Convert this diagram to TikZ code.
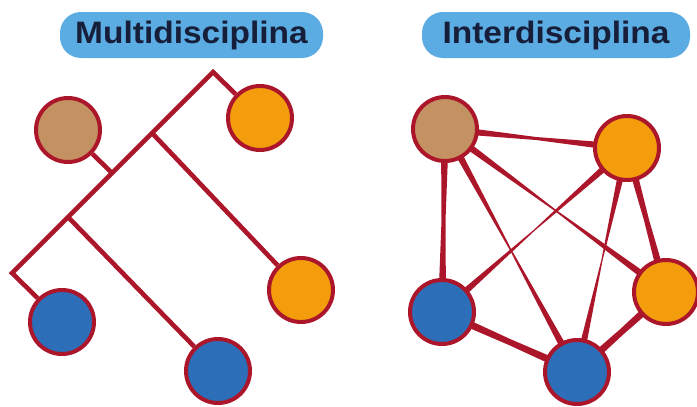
\documentclass[tikz,border=0pt]{standalone}
\usepackage{fontspec}
\setmainfont{Liberation Sans}
\usepackage{xcolor}
\usepackage{tikz}
\usetikzlibrary{positioning, calc, backgrounds}

\definecolor{linkred}{RGB}{172,22,42}
\definecolor{tanfill}{RGB}{196,146,98}
\definecolor{orangefill}{RGB}{243,156,12}
\definecolor{bluefill}{RGB}{44,110,184}
\definecolor{tagblue}{RGB}{90,172,226}
\definecolor{tagtext}{RGB}{22,30,58}

% bow-tie link: thick at both discs, narrow in the middle
\newcommand{\tielink}[3]{%
  \coordinate (tiemid) at ($(#1)!0.5!(#2)$);
  \fill[linkred] ($(#1)!4pt!90:(#2)$) -- ($(tiemid)!#3!90:(#2)$) -- ($(#2)!4pt!-90:(#1)$)
    -- ($(#2)!4pt!90:(#1)$) -- ($(tiemid)!#3!-90:(#2)$) -- ($(#1)!4pt!-90:(#2)$) -- cycle;}

\tikzset{
  disc/.style={circle, draw=linkred, line width=4pt, minimum size=64pt, inner sep=0pt},
  tag/.style={rounded corners=21pt, fill=tagblue, text=tagtext, minimum height=46pt,
    inner sep=0pt, font=\bfseries\fontsize{31}{31}\selectfont},
  branch/.style={draw=linkred, line width=4.6pt},
}

\begin{document}
\begin{tikzpicture}[x=1pt, y=-1pt]
  \useasboundingbox (0,0) rectangle (697,407);

  % Titles
  \node[tag, minimum width=263pt] (multi) at (191.5,35) {\scalebox{1.08}[1]{Multidisciplina}};
  \node[tag, minimum width=268pt] (inter) at (556,35) {\scalebox{1.08}[1]{Interdisciplina}};

  % Left: discs hanging from one stem
  \node[disc, fill=tanfill] (mtan) at (68,130) {};
  \node[disc, fill=orangefill] (morA) at (260,118) {};
  \node[disc, fill=orangefill] (morB) at (301,290) {};
  \node[disc, fill=bluefill] (mblueA) at (62,322) {};
  \node[disc, fill=bluefill] (mblueB) at (218,371) {};

  % Stem corners and joints
  \coordinate (top) at (213,72);
  \coordinate (foot) at (12,273);
  \coordinate (jA) at (152,133);
  \coordinate (jB) at (112,173);
  \coordinate (jC) at (68,217);

  \begin{scope}[on background layer]
    \draw[branch] (morA) -- (top) -- (foot) -- (mblueA);
    \draw[branch] (jA) -- (morB);
    \draw[branch] (jB) -- (mtan);
    \draw[branch] (jC) -- (mblueB);
  \end{scope}

  % Right: every disc tied to the others
  \node[disc, fill=tanfill] (itan) at (445,129) {};
  \node[disc, fill=orangefill] (iorA) at (627,148) {};
  \node[disc, fill=orangefill] (iorB) at (666,292) {};
  \node[disc, fill=bluefill] (iblueA) at (442,312) {};
  \node[disc, fill=bluefill] (iblueB) at (577,372) {};

  \begin{scope}[on background layer]
    \tielink{itan}{iorA}{1.5pt}
    \tielink{itan}{iblueA}{2pt}
    \tielink{itan}{iblueB}{0.8pt}
    \tielink{itan}{iorB}{0.8pt}
    \tielink{iorA}{iblueA}{0.6pt}
    \tielink{iorA}{iblueB}{0.6pt}
    \tielink{iorA}{iorB}{2.5pt}
    \tielink{iblueA}{iblueB}{3pt}
    \tielink{iblueB}{iorB}{3pt}
  \end{scope}
\end{tikzpicture}
\end{document}
